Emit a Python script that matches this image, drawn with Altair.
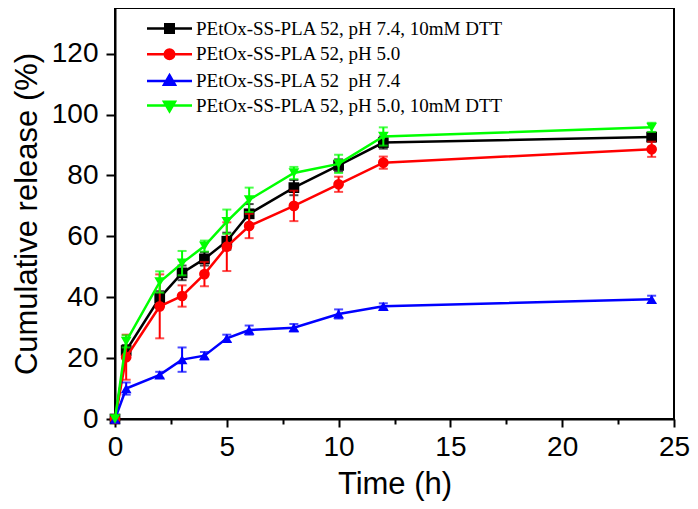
import altair as alt
import pandas as pd

# ---- data ----
times = [0, 0.5, 2, 3, 4, 5, 6, 8, 10, 12, 24]

series_names = [
    "PEtOx-SS-PLA 52, pH 7.4, 10mM DTT",
    "PEtOx-SS-PLA 52, pH 5.0",
    "PEtOx-SS-PLA 52\u00a0\u00a0pH 7.4",
    "PEtOx-SS-PLA 52, pH 5.0, 10mM DTT",
]
series_colors = ["#000000", "#ff0000", "#0000ff", "#00ff00"]
series_shapes = ["square", "circle", "triangle-up", "triangle-down"]

black_vals = [0, 22.5, 39.8, 48.0, 52.6, 58.4, 67.4, 76.0, 83.3, 90.8, 92.6]
black_err = [0, 1.8, 2.2, 2.4, 2.2, 2.8, 3.2, 2.5, 2.0, 2.0, 1.5]
red_vals = [0, 20.3, 37.0, 40.4, 47.6, 56.6, 63.4, 70.0, 77.1, 84.2, 88.6]
red_err = [0, 7.4, 10.5, 3.5, 4.0, 8.0, 4.0, 5.0, 2.5, 2.0, 2.5]
blue_vals = [0, 10.0, 14.5, 19.5, 20.8, 26.5, 29.2, 30.0, 34.5, 37.0, 39.3]
blue_err = [0, 2.0, 1.0, 4.0, 1.2, 1.2, 1.5, 1.2, 1.5, 1.0, 1.2]
green_vals = [0, 25.5, 45.0, 51.2, 56.8, 64.8, 72.0, 80.8, 83.8, 92.8, 95.8]
green_err = [0, 2.0, 3.5, 4.0, 1.8, 4.0, 4.0, 2.0, 3.0, 3.0, 1.5]

all_vals = [black_vals, red_vals, blue_vals, green_vals]
all_errs = [black_err, red_err, blue_err, green_err]

x_ticks = [0, 2.5, 5, 7.5, 10, 12.5, 15, 17.5, 20, 22.5, 25]
y_ticks = [0, 10, 20, 30, 40, 50, 60, 70, 80, 90, 100, 110, 120, 130]

# legend symbols: line segment + marker
legend_paths = [
    "M-4.5,0H4.5M-0.85,-0.85H0.85V0.85H-0.85Z",
    "M-4.5,0H4.5M-0.95,0A0.95,0.95 0 1,0 0.95,0A0.95,0.95 0 1,0 -0.95,0Z",
    "M-4.5,0H4.5M0,-1.15L1.1,0.75L-1.1,0.75Z",
    "M-4.5,0H4.5M0,1.15L1.1,-0.75L-1.1,-0.75Z",
]

xscale = alt.Scale(domain=[0, 25], nice=False, zero=False)
yscale = alt.Scale(domain=[0, 135], nice=False)

x_axis = alt.Axis(
    values=x_ticks, title="Time (h)", grid=False,
    labelExpr="datum.value % 5 === 0 ? datum.label : ''",
    labelFlush=False, labelOverlap=False,
    tickSize={"condition": {"test": "datum.value % 5 === 0", "value": 8}, "value": 5},
    labelPadding=6, titlePadding=8,
)
y_axis = alt.Axis(
    values=y_ticks, title="Cumulative release (%)", grid=False,
    labelExpr="datum.value % 20 === 0 ? datum.label : ''",
    labelFlush=False, labelOverlap=False,
    tickSize={"condition": {"test": "datum.value % 20 === 0", "value": 9}, "value": 5},
    labelPadding=8, titlePadding=8,
)

layers = []
for i, name in enumerate(series_names):
    df = pd.DataFrame({
        "t": times,
        "v": all_vals[i],
        "lo": [v - e for v, e in zip(all_vals[i], all_errs[i])],
        "hi": [v + e for v, e in zip(all_vals[i], all_errs[i])],
        "e": all_errs[i],
    })
    col = series_colors[i]
    base = alt.Chart(df)
    line = base.mark_line(color=col, strokeWidth=2.5).encode(
        x=alt.X("t:Q", scale=xscale, axis=x_axis),
        y=alt.Y("v:Q", scale=yscale, axis=y_axis),
    )
    eb = base.transform_filter("datum.e > 0")
    rule = eb.mark_rule(color=col, strokeWidth=2).encode(
        x="t:Q", y="lo:Q", y2="hi:Q"
    )
    cap_lo = eb.mark_tick(color=col, thickness=2, size=9, orient="horizontal").encode(
        x="t:Q", y="lo:Q"
    )
    cap_hi = eb.mark_tick(color=col, thickness=2, size=9, orient="horizontal").encode(
        x="t:Q", y="hi:Q"
    )
    pts = base.mark_point(
        shape=series_shapes[i], filled=True, color=col, size=115, opacity=1
    ).encode(x="t:Q", y="v:Q")
    layers += [line, rule, cap_lo, cap_hi, pts]

# legend-only layer (points clipped away, drawn outside the x domain)
leg_df = pd.DataFrame({"series": series_names, "t": [-50] * 4, "v": [50] * 4})
legend_layer = alt.Chart(leg_df).mark_point(
    filled=True, clip=True, strokeWidth=2.5, opacity=1
).encode(
    x="t:Q",
    y="v:Q",
    fill=alt.Fill("series:N", sort=series_names,
                  scale=alt.Scale(domain=series_names, range=series_colors),
                  legend=alt.Legend(title=None)),
    stroke=alt.Stroke("series:N", sort=series_names,
                      scale=alt.Scale(domain=series_names, range=series_colors),
                      legend=alt.Legend(title=None)),
    shape=alt.Shape("series:N", sort=series_names,
                    scale=alt.Scale(domain=series_names, range=legend_paths),
                    legend=alt.Legend(title=None)),
)

chart = alt.layer(*layers, legend_layer).properties(
    width=559,
    height=411,
    autosize=alt.AutoSizeParams(type="none"),
    padding={"left": 107, "top": 0, "right": 16, "bottom": 82},
).configure_view(
    stroke="black", strokeWidth=2
).configure_axis(
    domainColor="black", domainWidth=2, tickColor="black", tickWidth=2,
    labelFont="Liberation Sans", labelFontSize=28, labelColor="black",
    titleFont="Liberation Sans", titleFontSize=31, titleFontWeight="normal",
    titleColor="black",
).configure_legend(
    orient="none", legendX=45, legendY=11, padding=0,
    symbolSize=100, symbolStrokeWidth=2.5, labelOffset=17,
    labelFont="Liberation Serif", labelFontSize=19, labelColor="black",
    rowPadding=4.7, labelLimit=0,
)

chart.save("out.html", embed_options={"renderer": "svg", "actions": False})
